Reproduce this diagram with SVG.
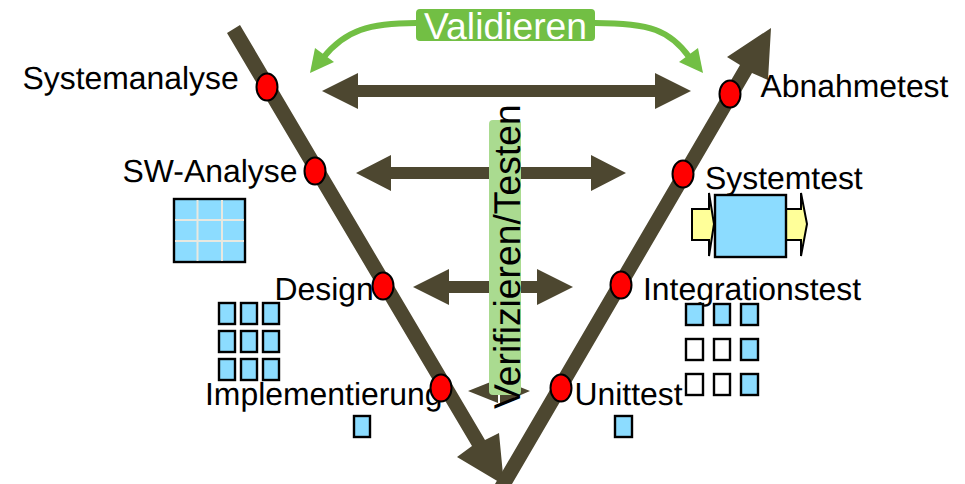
<svg xmlns="http://www.w3.org/2000/svg" width="965" height="484" viewBox="0 0 965 484">
<style>
text{text-rendering:geometricPrecision}
.lbl{font-family:"Liberation Sans",Arial,sans-serif;font-size:31.900px;fill:#000}
.big{font-family:"Liberation Sans",Arial,sans-serif;font-size:37.300px}
.shaft{fill:#4d4730}
.dot{fill:#f00;stroke:#000;stroke-width:2}
.blue{fill:#8cdcff;stroke:#000;stroke-width:2.400}
.empty{fill:#fff;stroke:#000;stroke-width:2.400}
.yel{fill:#ffff99;stroke:#000;stroke-width:2}
.grn{fill:none;stroke:#72bf44;stroke-width:6}
.gh{fill:#72bf44}
</style>
<rect width="965" height="484" fill="#fff"/>
<g id="connectors">
<path class="shaft" d="M227,33L240,25L485,440L499,433L504,485L457,457L472,446Z"/>
<path class="shaft" d="M495,484L740,65L727,57L771,28L768,80L752,73L512,484Z"/>
<path class="shaft" d="M322,91L358,73V85H655V73L691,91L655,109V97H358V109Z"/>
<path class="shaft" d="M356,173L391,155V167H591V155L626,173L591,191V179H391V191Z"/>
<path class="shaft" d="M413,287L449,269V281H537V269L573,287L537,305V293H449V305Z"/>
<path class="shaft" d="M468,391L498,379V403ZM530,391L500,379V404Z"/>
<path class="grn" d="M416,23C370,23 345,30 323,58"/>
<path class="gh" d="M310,73L315,48L334,62Z"/>
<path class="grn" d="M595,23C650,23 670,30 690,58"/>
<path class="gh" d="M703,73L698,48L679,62Z"/>
</g>
<g id="validieren"><rect x="416" y="9" width="179" height="32" rx="4" fill="#72bf44"/><text class="big" x="424" y="39" fill="#fff">Validieren</text></g>
<g id="verifizieren"><rect x="489" y="120" width="32" height="275" rx="4" fill="#aadb90"/><text class="big" transform="translate(520,409) rotate(-90)" fill="#000">Verifizieren/Testen</text></g>
<g id="n-systemanalyse"><text class="lbl" x="22.500" y="88.500">Systemanalyse</text><ellipse class="dot" cx="267" cy="87" rx="10.500" ry="13.500"/></g>
<g id="n-swanalyse"><text class="lbl" x="122.500" y="182">SW-Analyse</text><ellipse class="dot" cx="315" cy="171" rx="10.500" ry="13.500"/></g>
<g id="n-design"><text class="lbl" x="274.500" y="300">Design</text><ellipse class="dot" cx="383" cy="286" rx="10.500" ry="13.500"/></g>
<g id="n-implementierung"><text class="lbl" x="205" y="404.500">Implementierung</text><ellipse class="dot" cx="441" cy="388" rx="10.500" ry="13.500"/></g>
<g id="n-abnahmetest"><text class="lbl" x="760.500" y="97">Abnahmetest</text><ellipse class="dot" cx="730" cy="94" rx="10.500" ry="13.500"/></g>
<g id="n-systemtest"><text class="lbl" x="705" y="188.500">Systemtest</text><ellipse class="dot" cx="683" cy="174" rx="10.500" ry="13.500"/></g>
<g id="n-integrationstest"><text class="lbl" x="643" y="300">Integrationstest</text><ellipse class="dot" cx="621" cy="285" rx="10.500" ry="13.500"/></g>
<g id="n-unittest"><text class="lbl" x="574.500" y="404.500">Unittest</text><ellipse class="dot" cx="561" cy="388" rx="10.500" ry="13.500"/></g>
<g id="grid-large"><rect x="174" y="199" width="71" height="63" class="blue"/><path d="M197.500,200V261M222,200V261M175,220H244M175,241H244" stroke="#e8e8e0" stroke-width="2" fill="none"/></g>
<g id="grid-left">
<rect class="blue" x="219" y="303" width="16" height="21"/><rect class="blue" x="241" y="303" width="16" height="21"/><rect class="blue" x="263" y="303" width="16" height="21"/>
<rect class="blue" x="219" y="331" width="16" height="21"/><rect class="blue" x="241" y="331" width="16" height="21"/><rect class="blue" x="263" y="331" width="16" height="21"/>
<rect class="blue" x="219" y="359" width="16" height="21"/><rect class="blue" x="241" y="359" width="16" height="21"/><rect class="blue" x="263" y="359" width="16" height="21"/>
</g>
<g id="unit-left"><rect class="blue" x="354" y="416" width="16" height="21"/></g>
<g id="grid-right">
<rect class="blue" x="686" y="304" width="17" height="21"/><rect class="blue" x="714" y="304" width="16" height="21"/><rect class="blue" x="741" y="304" width="17" height="21"/>
<rect class="empty" x="686" y="339" width="17" height="21"/><rect class="empty" x="714" y="339" width="16" height="21"/><rect class="blue" x="741" y="339" width="17" height="21"/>
<rect class="empty" x="686" y="374" width="17" height="21"/><rect class="empty" x="714" y="374" width="16" height="21"/><rect class="blue" x="741" y="374" width="17" height="21"/>
</g>
<g id="unit-right"><rect class="blue" x="615" y="416" width="17" height="21"/></g>
<g id="systembox">
<path class="yel" d="M692,209H709V193L714,224L709,256V240H692Z"/>
<path class="yel" d="M786,209H801V193L807,224L801,256V240H786Z"/>
<rect class="blue" x="715" y="195" width="71" height="62"/>
</g>
</svg>
